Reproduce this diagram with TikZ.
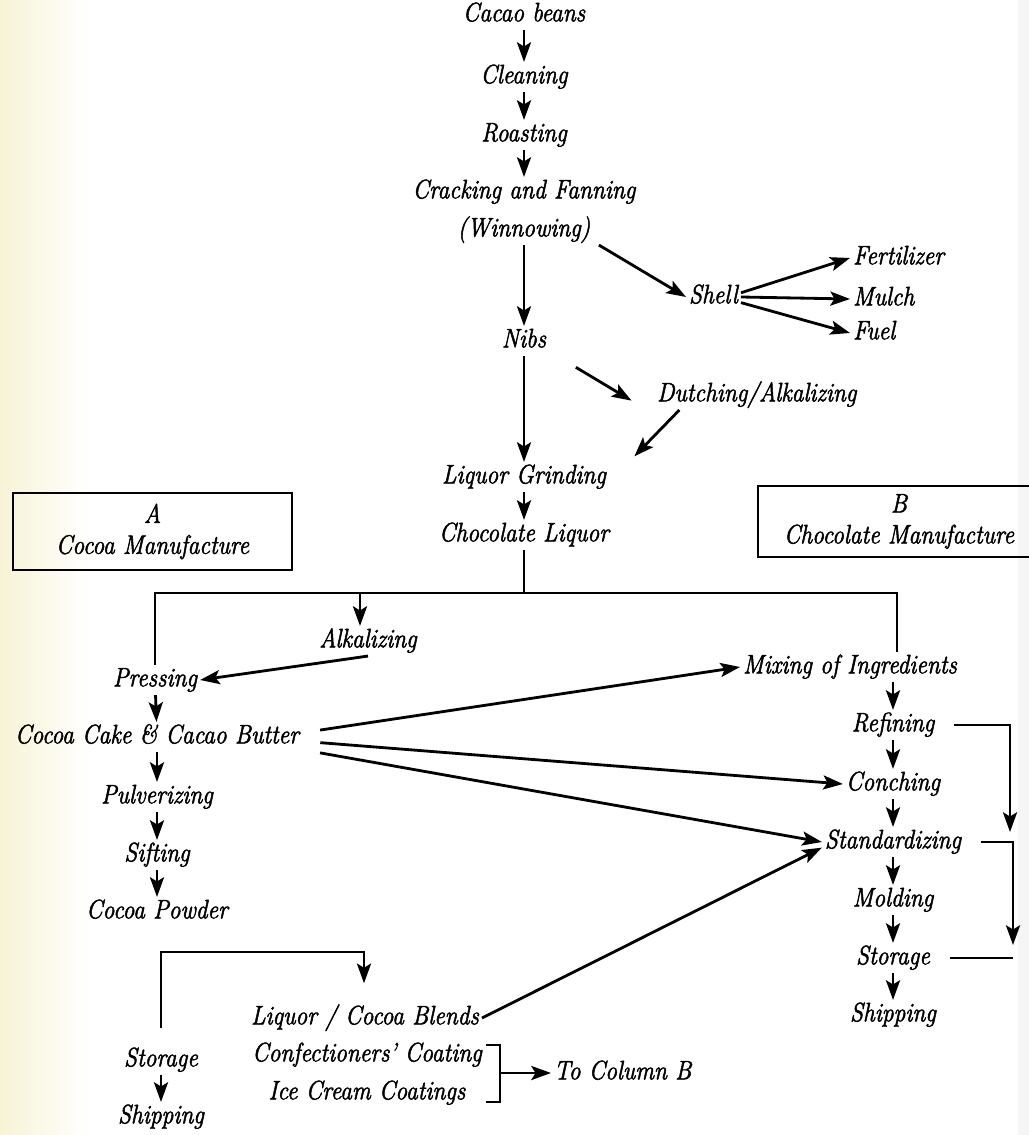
\documentclass[tikz,border=0pt]{standalone}
\usepackage{fontspec}
\setmainfont{Latin Modern Roman}[ItalicFeatures={FakeBold=1.8,FakeStretch=0.88}]
\usetikzlibrary{arrows.meta}
\definecolor{paper}{RGB}{247,243,214}
\begin{document}
\begin{tikzpicture}[x=0.025cm,y=-0.025cm,
  stage/.style={font=\fontsize{19}{23}\selectfont\itshape,inner sep=2pt,text height=13pt,text depth=4pt},
  framebox/.style={draw,line width=1.3pt,align=center,inner sep=0pt,font=\fontsize{19}{22}\selectfont\itshape},
  rule/.style={line width=2pt},
  flow/.style={rule,-{Stealth[length=14pt,width=10pt,inset=3pt]}}]
\pgfmathsetmacro{\mx}{524}
\pgfmathsetmacro{\lx}{157}
\pgfmathsetmacro{\rx}{893}
\pgfmathsetmacro{\sy}{593}
%page
\useasboundingbox (0,0) rectangle (1029,1135);
\fill[white] (0,0) rectangle (1029,1135);
\shade[left color=paper,right color=white] (0,0) rectangle (90,1135);
\fill[gray!8] (1018,0) rectangle (1029,1135);
%main line
\node[stage] (beans) at (\mx,15) {Cacao beans};
\node[stage] (clean) at (\mx,77) {Cleaning};
\node[stage] (roast) at (\mx,135) {Roasting};
\node[stage] (crack) at (\mx,192) {Cracking and Fanning};
\node[stage] (winnow) at (\mx,230) {(Winnowing)};
\node[stage] (nibs) at (\mx,341) {Nibs};
\node[stage] (grind) at (\mx,477) {Liquor Grinding};
\node[stage] (liquor) at (\mx,535) {Chocolate Liquor};
\draw[flow] (beans) -- (clean);
\draw[flow] (clean) -- (roast);
\draw[flow] (roast) -- (crack);
\draw[flow] (winnow) -- (nibs);
\draw[flow] (nibs) -- (grind);
\draw[flow] (grind) -- (liquor);
%shell
\node[stage,anchor=west] (shell) at (686,297) {Shell};
\node[stage,anchor=west] (fert) at (850,258) {Fertilizer};
\node[stage,anchor=west] (mulch) at (850,299) {Mulch};
\node[stage,anchor=west] (fuel) at (850,333) {Fuel};
\draw[flow] ([xshift=4pt]winnow.south east) -- (shell.west);
\foreach \t/\s in {fert/3pt,mulch/0pt,fuel/-4pt}
  \draw[flow] ([yshift=\s]shell.east) -- (\t.west);
%dutching
\node[stage,anchor=west] (dutch) at (654,395) {Dutching/Alkalizing};
\draw[flow] ([xshift=19pt,yshift=-8pt]nibs.south east) -- ([xshift=-16pt,yshift=-4pt]dutch.west);
\draw[flow] ([xshift=18pt]dutch.south west) -- ([xshift=18pt,yshift=4pt]grind.north east);
%boxes
\node[framebox,minimum width=6.975cm,minimum height=1.925cm] (boxA) at (152.5,531.5) {A\\Cocoa Manufacture};
\node[framebox,minimum width=7.05cm,minimum height=1.775cm] (boxB) at (899,521.5) {B\\Chocolate Manufacture};
%split
\coordinate (tl) at (155,\sy);
\coordinate (drop) at (360,\sy);
\coordinate (tr) at (897,\sy);
\draw[rule] (liquor.south) -- (liquor.south |- tl);
%column A
\node[stage] (alkal) at (368,641) {Alkalizing};
\node[stage] (press) at (155,680) {Pressing};
\node[stage] (cake) at (\lx,737) {Cocoa Cake \& Cacao Butter};
\node[stage] (pulv) at (\lx,797) {Pulverizing};
\node[stage] (sift) at (\lx,855) {Sifting};
\node[stage] (powder) at (\lx,912) {Cocoa Powder};
\node[stage] (storeA) at (161,1060) {Storage};
\node[stage] (shipA) at (161,1117) {Shipping};
\node[stage] (blends) at (365,1018) {Liquor / Cocoa Blends};
\node[stage] (confec) at (367,1055) {Confectioners’ Coating};
\node[stage] (icecream) at (367,1093) {Ice Cream Coatings};
\node[stage,anchor=west] (tocolB) at (551,1073) {To Column B};
\draw[flow] (drop) -- (drop |- alkal.north);
\draw[flow] (alkal.south) -- (press.east);
\draw[flow] (press) -- (cake);
\draw[flow] (cake) -- (pulv);
\draw[flow] (pulv) -- (sift);
\draw[flow] (sift) -- (powder);
\draw[flow] (storeA) -- (shipA);
\coordinate (hook) at (364,952);
\draw[flow,shorten <=12pt,shorten >=14pt] (storeA.north) |- (hook) -- (hook |- blends.north);
\draw[rule] (486,1045) -- (500,1045) -- (500,1102) -- (486,1102);
\coordinate (brmid) at (500,1073);
\draw[flow] (brmid) -- (tocolB.west);
%column B
\node[stage] (mix) at (850,667) {Mixing of Ingredients};
\node[stage] (refine) at (\rx,725) {Refining};
\node[stage] (conch) at (\rx,784) {Conching};
\node[stage] (stand) at (\rx,842) {Standardizing};
\node[stage] (mold) at (\rx,900) {Molding};
\node[stage] (storeB) at (\rx,958) {Storage};
\node[stage] (shipB) at (\rx,1015) {Shipping};
\draw[rule] (press.north -| tl) -- (tl) -- (tr) -- (mix.north -| tr);
\draw[flow] (refine |- mix.south) -- (refine);
\draw[flow] (refine) -- (conch);
\draw[flow] (conch) -- (stand);
\draw[flow] (stand) -- (mold);
\draw[flow] (mold) -- (storeB);
\draw[flow] (storeB) -- (shipB);
\coordinate (rb1) at (1010,832);
\coordinate (rb2) at (1013,945);
\draw[flow,shorten <=12pt] (refine.east) -| (rb1);
\draw[flow,shorten <=12pt] (stand.east) -| (rb2);
\draw[rule,shorten <=12pt] (storeB.east) -- (storeB.east -| rb2);
%cake to column B
\foreach \t/\s in {mix/3pt,conch/-3pt,stand/-9pt}
  \draw[flow,shorten <=13pt] ([yshift=\s]cake.east) -- (\t.west);
\draw[flow] (blends.east) -- ([yshift=-4pt]stand.west);
\end{tikzpicture}
\end{document}
